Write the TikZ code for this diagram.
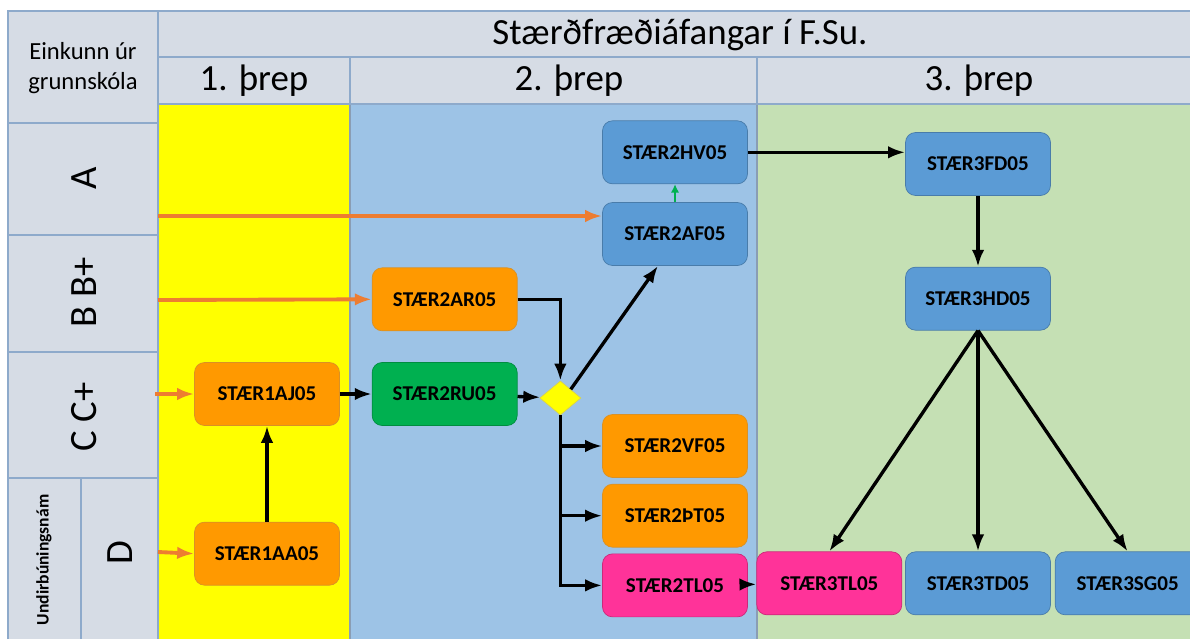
\documentclass[tikz,border=0pt]{standalone}
\usepackage{fontspec}
\setmainfont{Carlito}
\usepackage{xcolor}
\usepackage{tikz}
\usetikzlibrary{arrows.meta}
\usetikzlibrary{shapes,arrows,positioning}
\definecolor{hdr-gray}{HTML}{D6DCE5}
\definecolor{grid-blue}{HTML}{8EAACB}
\definecolor{panel-yellow}{HTML}{FFFF00}
\definecolor{panel-blue}{HTML}{9DC3E6}
\definecolor{panel-green}{HTML}{C5E0B4}
\definecolor{node-blue}{HTML}{5B9BD5}
\definecolor{node-orange}{HTML}{FF9900}
\definecolor{node-green}{HTML}{00B050}
\definecolor{node-pink}{HTML}{FF3399}
\definecolor{entry-orange}{HTML}{ED7D31}
\tikzset{fsu-line/.style={line width=1.9pt}}
\tikzset{>={Latex[length=0.34cm, width=0.25cm]}}
\tikzset{grid-line/.style={line width=0.8pt, draw=grid-blue}}
\tikzset{panel-line/.style={line width=0.6pt, draw=grid-blue!70!gray}}
\tikzset{fsu-entry/.style={line width=2.2pt, draw=entry-orange, fill=entry-orange}}
\tikzset{fsu-up/.style={line width=1.3pt, draw=node-green, fill=node-green, >={Latex[length=0.17cm, width=0.17cm]}}}
\tikzset{fsu-node/.style={draw, inner sep=0, minimum width=2.9cm, minimum height=1.26cm, rounded corners=0.2cm, font=\fontsize{12}{14}\selectfont\bfseries}}
\tikzset{fsu-blue/.style={fsu-node, fill=node-blue, draw=node-blue!80!black}}
\tikzset{fsu-orange/.style={fsu-node, fill=node-orange, draw=node-orange!70!gray}}
\tikzset{fsu-green/.style={fsu-node, fill=node-green, draw=node-green!80!black}}
\tikzset{fsu-pink/.style={fsu-node, fill=node-pink, draw=node-pink!80!black}}
\tikzset{fsu-diamond/.style={diamond, draw=yellow!70!gray, fill=panel-yellow, inner sep=0, minimum width=0.82cm, minimum height=0.68cm}}
\tikzset{head-text/.style={font=\fontsize{21}{25}\selectfont}}
\tikzset{row-text/.style={rotate=90, font=\fontsize{22}{26}\selectfont}}

\begin{document}
\begin{tikzpicture}[x=0.02cm, y=-0.02cm]
            \useasboundingbox (0,0) rectangle (1190,639);

            \fill[hdr-gray] (8,11) rectangle (1190,104);
            \fill[hdr-gray] (8,104) rectangle (158,639);
            \fill[panel-yellow] (158,104) rectangle (350,639);
            \fill[panel-blue] (350,104) rectangle (757,639);
            \fill[panel-green] (757,104) rectangle (1190,639);

            \draw[panel-line] (350,104) -- (350,639);
            \draw[panel-line] (757,104) -- (757,639);

            \draw[grid-line] (8,639) -- (8,11) -- (1190,11);
            \draw[grid-line] (158,11) -- (158,639);
            \draw[grid-line] (158,57) -- (1190,57);
            \draw[grid-line] (158,104) -- (1190,104);
            \draw[grid-line] (350,57) -- (350,104);
            \draw[grid-line] (757,57) -- (757,104);
            \draw[grid-line] (8,123) -- (158,123);
            \draw[grid-line] (8,235) -- (158,235);
            \draw[grid-line] (8,352) -- (158,352);
            \draw[grid-line] (8,478) -- (158,478);
            \draw[grid-line] (81,478) -- (81,639);

            \node[head-text] (title) at (680,35) {Stærðfræðiáfangar í F.Su.};
            \node[head-text] (tier1) at (254,81) {1. þrep};
            \node[head-text] (tier2) at (569,81) {2. þrep};
            \node[head-text] (tier3) at (979,81) {3. þrep};
            \node[align=center, font=\fontsize{14}{17}\selectfont] (grade) at (83,68) {Einkunn úr\\grunnskóla};

            \node[row-text] (row-a) at (84,178) {A};
            \node[row-text] (row-b) at (84,292) {B B+};
            \node[row-text] (row-c) at (84,417) {C C+};
            \node[row-text] (row-d) at (120,553) {D};
            \node[rotate=90, font=\fontsize{10}{12}\selectfont\bfseries] (prep) at (44,560) {Undirbúningsnám};

            \node[fsu-orange] (aj) at (267,394) {STÆR1AJ05};
            \node[fsu-orange, below=1.92cm of aj] (aa) {STÆR1AA05};
            \node[fsu-green, right=0.64cm of aj] (ru) {STÆR2RU05};
            \node[fsu-orange, above=0.62cm of ru] (ar) {STÆR2AR05};
            \node[fsu-diamond, right=0.44cm of ru, yshift=-0.08cm] (dia) {};

            \node[fsu-blue] (af) at (675,234) {STÆR2AF05};
            \node[fsu-blue, above=0.36cm of af] (hv) {STÆR2HV05};
            \node[fsu-orange] (vf) at (675,446) {STÆR2VF05};
            \node[fsu-orange, below=0.12cm of vf] (tp) {STÆR2ÞT05};
            \node[fsu-pink, below=0.12cm of tp] (tl2) {STÆR2TL05};

            \node[fsu-blue] (fd) at (978,164) {STÆR3FD05};
            \node[fsu-blue, below=1.42cm of fd] (hd) {STÆR3HD05};
            \node[fsu-blue, below=4.42cm of hd] (td) {STÆR3TD05};
            \node[fsu-pink, left=0.06cm of td] (tl3) {STÆR3TL05};
            \node[fsu-blue, right=0.08cm of td] (sg) {STÆR3SG05};

            \coordinate (in-a) at (158,216);
            \coordinate (in-b) at (158,300);
            \coordinate (in-c) at (155,394);
            \coordinate (in-d) at (158,552);

            \draw[->, fsu-entry] (in-a) -- (in-a -| af.west);
            \draw[->, fsu-entry] (in-b) -- (ar.west);
            \draw[->, fsu-entry] (in-c) -- (aj.west);
            \draw[->, fsu-entry] (in-d) -- (aa.west);

            \draw[->, fsu-line] (aa) -- (aj);
            \draw[->, fsu-line] (aj) -- (ru);
            \draw[->, fsu-line] (ru) -- (dia);
            \draw[->, fsu-line] (ar.east) -| (dia.north);
            \draw[->, fsu-line] (dia.north east) -- ([xshift=-0.34cm]af.south);
            \draw[->, fsu-line] (dia.south) |- (tl2.west);
            \draw[->, fsu-line] (dia.south |- vf.west) -- (vf.west);
            \draw[->, fsu-line] (dia.south |- tp.west) -- (tp.west);
            \draw[->, fsu-up] (af) -- (hv);
            \draw[->, fsu-line] (tl2) -- (tl3);

            \draw[->, fsu-line] (hv.east) -- (hv.east -| fd.west);
            \draw[->, fsu-line] (fd) -- (hd);
            \draw[->, fsu-line] (hd.south) -- (tl3.north);
            \draw[->, fsu-line] (hd.south) -- (td.north);
            \draw[->, fsu-line] (hd.south) -- (sg.north);

        \end{tikzpicture}
\end{document}
